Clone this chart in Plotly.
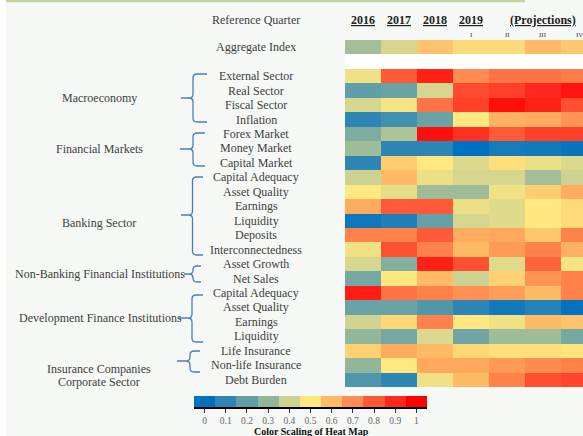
import plotly.graph_objects as go

W, H = 583, 436

# ---------------- data ----------------
indicators = ["Aggregate Index", "", "External Sector", "Real Sector", "Fiscal Sector", "Inflation",
              "Forex Market", "Money Market", "Capital Market", "Capital Adequacy", "Asset Quality",
              "Earnings", "Liquidity", "Deposits", "Interconnectedness", "Asset Growth", "Net Sales",
              "Capital Adequacy", "Asset Quality", "Earnings", "Liquidity", "Life Insurance",
              "Non-life Insurance", "Debt Burden"]

year_labels = ["2016", "2017", "2018", "2019"]
quarter_labels = ["I", "II", "III", "IV"]

q2016 = [0.33, None, 0.47, 0.20, 0.42, 0.10, 0.26, 0.32, 0.10, 0.40, 0.50, 0.63, 0.03, 0.72, 0.47, 0.42, 0.24, 0.93, 0.22, 0.41, 0.30, 0.55, 0.30, 0.17]
q2017 = [0.42, None, 0.80, 0.22, 0.48, 0.14, 0.35, 0.10, 0.56, 0.60, 0.45, 0.80, 0.07, 0.72, 0.82, 0.27, 0.50, 0.75, 0.22, 0.54, 0.24, 0.63, 0.50, 0.10]
q2018 = [0.58, None, 0.92, 0.42, 0.75, 0.22, 0.96, 0.10, 0.50, 0.46, 0.32, 0.80, 0.21, 0.80, 0.72, 0.92, 0.60, 0.72, 0.17, 0.72, 0.43, 0.60, 0.64, 0.47]
q2019_I = [0.53, None, 0.70, 0.83, 0.85, 0.50, 0.88, 0.00, 0.43, 0.42, 0.32, 0.46, 0.42, 0.63, 0.60, 0.82, 0.40, 0.69, 0.10, 0.50, 0.23, 0.54, 0.64, 0.60]
q2019_II = [0.53, None, 0.75, 0.85, 0.96, 0.62, 0.80, 0.05, 0.52, 0.42, 0.47, 0.44, 0.44, 0.64, 0.67, 0.44, 0.55, 0.66, 0.04, 0.47, 0.32, 0.52, 0.67, 0.72]
q2019_III = [0.60, None, 0.75, 0.90, 0.92, 0.63, 0.85, 0.04, 0.46, 0.33, 0.56, 0.50, 0.50, 0.57, 0.72, 0.78, 0.68, 0.60, 0.08, 0.60, 0.32, 0.52, 0.70, 0.82]
q2019_IV = [0.57, None, 0.73, 0.95, 0.82, 0.68, 0.85, 0.02, 0.43, 0.40, 0.63, 0.53, 0.53, 0.72, 0.62, 0.48, 0.72, 0.72, 0.01, 0.58, 0.24, 0.51, 0.72, 0.84]

scale_values = [0, 0.1, 0.2, 0.3, 0.4, 0.5, 0.6, 0.7, 0.8, 0.9, 1]
scale_labels = ["0", "0.1", "0.2", "0.3", "0.4", "0.5", "0.6", "0.7", "0.8", "0.9", "1"]

groups = ["Macroeconomy", "Financial Markets", "Banking Sector", "Non-Banking Financial Institutions",
          "Development Finance Institutions", "Insurance Companies", "Corporate Sector"]

# ---------------- style ----------------
scale_colors = ["rgb(0,112,192)", "rgb(46,134,180)", "rgb(96,158,168)", "rgb(146,182,154)",
                "rgb(204,210,146)", "rgb(255,232,128)", "rgb(255,186,102)", "rgb(255,140,80)",
                "rgb(255,90,56)", "rgb(255,40,28)", "rgb(255,0,0)"]
colorscale = [[v, c] for v, c in zip(scale_values, scale_colors)]

columns = [q2016, q2017, q2018, q2019_I, q2019_II, q2019_III, q2019_IV]
nrows = len(indicators)
z = [[col[r] for col in columns] for r in range(nrows)]

def px(x):
    return x / W

def py(y):
    return 1 - y / H

FONT = "Liberation Serif"
GREY = "#404040"

fig = go.Figure()
fig.add_trace(go.Heatmap(z=z, x=list(range(len(columns))), y=list(range(nrows)),
                         colorscale=colorscale, zmin=0, zmax=1, showscale=False,
                         xaxis="x", yaxis="y", hoverongaps=False))
fig.add_trace(go.Heatmap(z=[scale_values], x=list(range(len(scale_values))), y=[0],
                         colorscale=colorscale, zmin=0, zmax=1, showscale=False,
                         xaxis="x2", yaxis="y2"))

col_w = 36.0
x_left = 345
n_vis = (W - x_left) / col_w
top, bottom = 40, 387

def ann(text, x, y, xref="paper", yref="paper", size=12, color=GREY):
    return dict(text=text, x=x, y=y, xref=xref, yref=yref, xanchor="center", yanchor="middle",
                showarrow=False, font=dict(family=FONT, size=size, color=color))

annotations = []
# row labels
for i, name in enumerate(indicators):
    if name:
        annotations.append(ann(name, px(256), i, yref="y"))
# header
annotations.append(ann("Reference Quarter", px(256), py(20)))
for i, yl in enumerate(year_labels):
    annotations.append(ann("<b><u>%s</u></b>" % yl, i, py(20), xref="x", color="#222"))
annotations.append(ann("<b><u>(Projections)</u></b>", 5, py(20), xref="x", color="#222"))
for i, ql in enumerate(quarter_labels):
    annotations.append(ann(ql, 3 + i, py(35), xref="x", size=7))

# group labels (pixel layout)
group_pos = [(99, 98), (99, 149), (99, 223), (100, 274), (100, 318), (99, 369), (99, 382)]
for g, (gx, gy) in zip(groups, group_pos):
    annotations.append(ann(g, px(gx), py(gy)))

annotations.append(ann("<b>Color Scaling of Heat Map</b>", px(311), py(431), size=10, color="#111"))

braces = [  # top, bottom, tip_y, tip_x, vert_x, right_x
    (74, 122, 98, 181, 193, 207),
    (133, 166, 149, 180, 193, 205),
    (177, 255, 215, 181, 192.5, 203),
    (266, 282, 274, 184, 193, 201),
    (295, 342, 318, 179, 192, 203),
    (351, 372, 361, 177, 190, 200),
]
shapes = []
for (t, b, ty, tx, vx, rx) in braces:
    r = 4
    pts = (f"M {px(rx)},{py(t)} L {px(vx + r)},{py(t)} Q {px(vx)},{py(t)} {px(vx)},{py(t + r)} "
           f"L {px(vx)},{py(ty - r)} Q {px(vx)},{py(ty)} {px(vx - r)},{py(ty)} L {px(tx)},{py(ty)} "
           f"M {px(vx - r)},{py(ty)} Q {px(vx)},{py(ty)} {px(vx)},{py(ty + r)} "
           f"L {px(vx)},{py(b - r)} Q {px(vx)},{py(b)} {px(vx + r)},{py(b)} L {px(rx)},{py(b)}")
    shapes.append(dict(type="path", path=pts, xref="paper", yref="paper",
                       line=dict(color="#4a7ebb", width=1.3)))
# page decorations
shapes.append(dict(type="rect", xref="paper", yref="paper", x0=0, x1=px(6), y0=0, y1=1,
                   fillcolor="white", line=dict(width=0), layer="below"))
shapes.append(dict(type="line", xref="paper", yref="paper", x0=px(6), x1=px(525), y0=py(1), y1=py(1),
                   line=dict(color="#c3d69b", width=2.5)))

fig.update_layout(
    width=W, height=H,
    margin=dict(l=0, r=0, t=0, b=0),
    paper_bgcolor="#f6f8f6", plot_bgcolor="white",
    showlegend=False,
    xaxis=dict(domain=[px(x_left), 1], range=[-0.5, n_vis - 0.5], showticklabels=False,
               showgrid=False, zeroline=False, ticks=""),
    yaxis=dict(domain=[py(bottom), py(top)], range=[nrows - 0.5, -0.5], showticklabels=False,
               showgrid=False, zeroline=False, ticks=""),
    xaxis2=dict(domain=[px(194), px(427)], range=[-0.5, 10.5], anchor="y2",
                tickvals=list(range(len(scale_values))), ticktext=scale_labels,
                ticks="outside", ticklen=4, tickcolor="#333", tickwidth=1,
                showline=True, linecolor="black", linewidth=2, showgrid=False, zeroline=False,
                tickfont=dict(family=FONT, size=9.5, color="#666")),
    yaxis2=dict(domain=[py(407), py(396)], range=[-0.5, 0.5], anchor="x2",
                showticklabels=False, showgrid=False, zeroline=False),
    annotations=annotations, shapes=shapes,
)

fig.write_html("out.html", config={"displayModeBar": False},
               post_script="document.body.style.margin='0';document.body.style.overflow='hidden';")
